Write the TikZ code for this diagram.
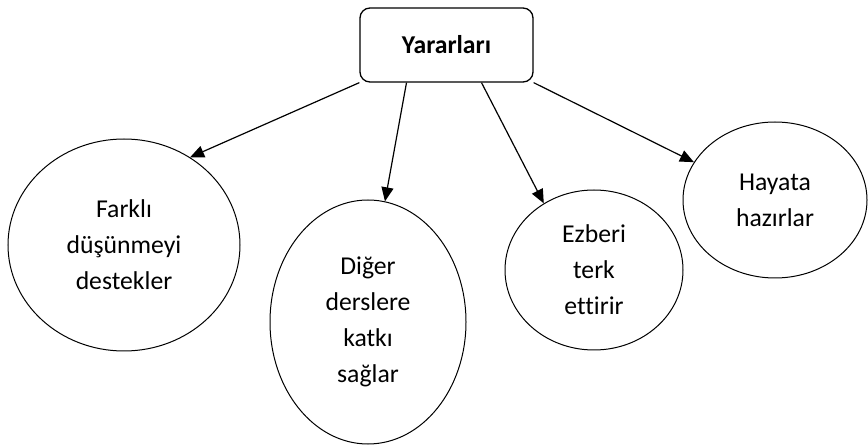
\documentclass[tikz,border=0pt]{standalone}
\usepackage{fontspec}
\setmainfont{Carlito}[Ligatures=NoCommon]
\usetikzlibrary{arrows.meta, shapes.geometric}

\begin{document}
\begin{tikzpicture}[x=1pt,y=-1pt,>={Triangle[length=14pt,width=12pt]},
    every node/.style={font=\fontsize{25.7}{36}\selectfont}]
  \tikzstyle{nodeT}=[rectangle,rounded corners=10pt,draw=black,line width=1.3pt,minimum width=173pt,minimum height=74pt,font=\fontsize{25.7}{36}\selectfont\bfseries]
  \tikzstyle{nodeE}=[ellipse,draw=black,line width=1pt,align=center,inner sep=0pt]
  \useasboundingbox (0,0) rectangle (868,446);

  \node[nodeT] (yarar) at (446.5,45) {Yararları};

  \node[nodeE,minimum width=232pt,minimum height=212pt] (farkli) at (124,245) {Farklı\\düşünmeyi\\destekler};
  \node[nodeE,minimum width=196pt,minimum height=244pt] (diger)  at (368,322) {Diğer\\derslere\\katkı\\sağlar};
  \node[nodeE,minimum width=178pt,minimum height=160pt] (ezber)  at (594,270) {Ezberi\\terk\\ettirir};
  \node[nodeE,minimum width=184pt,minimum height=156pt] (hayat)  at (775,200) {Hayata\\hazırlar};

  \path[->,line width=1.2pt] (yarar.south west) edge (farkli.53);
  \path[->,line width=1.2pt] ([xshift=-40pt]yarar.south) edge (diger.82);
  \path[->,line width=1.2pt] ([xshift=35pt]yarar.south) edge (ezber.127);
  \path[->,line width=1.2pt] (yarar.south east) edge (hayat.155);
\end{tikzpicture}
\end{document}
